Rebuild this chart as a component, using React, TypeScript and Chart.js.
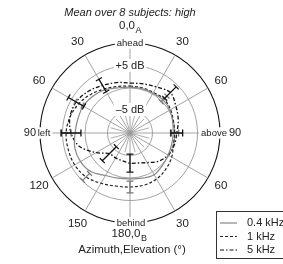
import { useEffect, useRef } from 'react';
import { Chart, registerables } from 'chart.js';

Chart.register(...registerables);

// angle of each radar spoke, clockwise from "ahead" (degrees)
const angles = [0, 15, 30, 45, 60, 75, 90, 105, 120, 135, 150, 165, 180, 195, 210, 225, 240, 255, 270, 285, 300, 315, 330, 345];

// relative level (dB) per spoke
const lowValues = [0.2, 0.2, 0.2, 0.4, 0.2, -0.2, -0.4, -0.4, -0.2, 0.2, 0.7, 0.4, 0.2, 0.4, 0.9, 2.2, 2.7, 2.7, 2.2, 2.0, 2.0, 1.6, 1.1, 0.4];
const midValues = [0.4, 0.4, 0.4, 0.7, 0.4, 0.0, -0.1, 0.0, 0.7, 1.3, 1.8, 2.0, 2.0, 2.2, 2.9, 3.8, 4.2, 4.2, 4.2, 3.8, 3.1, 2.2, 1.3, 0.7];
const highValues = [1.1, 1.3, 1.8, 2.7, 1.8, 1.1, 0.4, 0.2, -0.2, -1.1, -2.4, -3.1, -3.3, -3.6, -3.6, -3.5, -1.3, 1.6, 3.1, 3.8, 3.8, 3.1, 2.2, 1.6];

// error bars (half-length, dB)
const highErrIdx = [3, 6, 12, 15, 18, 20, 22];
const highErr = [1.8, 1.3, 2.0, 2.2, 2.2, 2.0, 1.6];
const midErrIdx = [3, 6, 12, 15, 18, 20];
const midErr = [0.9, 0.9, 1.3, 1.1, 1.1, 0.9];

// angle tick labels
const sideLabelIdx = [2, 4, 8, 10, 14, 16, 20, 22];
const sideLabelText = ['30', '60', '60', '30', '150', '120', '60', '30'];

const seriesNames = ['0.4 kHz', '1 kHz', '5 kHz'];
const FONT = '"Liberation Sans", Arial, sans-serif';

const overlay = {
  id: 'overlay',
  beforeDatasetsDraw(chart: any) {
    const s = chart.scales.r;
    const ctx = chart.ctx;
    ctx.save();
    ctx.strokeStyle = '#999';
    ctx.lineWidth = 0.8;
    for (let i = 1; i < angles.length; i += 2) {
      const p = s.getPointPosition(i, 20);
      ctx.beginPath();
      ctx.moveTo(s.xCenter, s.yCenter);
      ctx.lineTo(p.x, p.y);
      ctx.stroke();
    }
    ctx.restore();
  },
  afterDatasetsDraw(chart: any) {
    const s = chart.scales.r;
    const ctx = chart.ctx;
    const drawBars = (values: number[], idx: number[], err: number[], color: string) => {
      ctx.save();
      ctx.strokeStyle = color;
      ctx.lineWidth = 1.3;
      ctx.setLineDash([]);
      idx.forEach((i, k) => {
        const a = s.getPointPosition(i, s.getDistanceFromCenterForValue(values[i] - err[k]));
        const b = s.getPointPosition(i, s.getDistanceFromCenterForValue(values[i] + err[k]));
        const dx = b.x - a.x, dy = b.y - a.y;
        const len = Math.hypot(dx, dy) || 1;
        const nx = -dy / len * 3.5, ny = dx / len * 3.5;
        ctx.beginPath();
        ctx.moveTo(a.x, a.y); ctx.lineTo(b.x, b.y);
        ctx.moveTo(a.x - nx, a.y - ny); ctx.lineTo(a.x + nx, a.y + ny);
        ctx.moveTo(b.x - nx, b.y - ny); ctx.lineTo(b.x + nx, b.y + ny);
        ctx.stroke();
      });
      ctx.restore();
    };
    drawBars(midValues, midErrIdx, midErr, '#777');
    drawBars(highValues, highErrIdx, highErr, '#111');
  },
  afterDraw(chart: any) {
    const s = chart.scales.r;
    const ctx = chart.ctx;
    const cx = s.xCenter, cy = s.yCenter, R = s.drawingArea;
    ctx.save();
    ctx.textBaseline = 'middle';
    ctx.fillStyle = '#222';

    const boxed = (t: string, x: number, y: number, size: number, align: 'center' | 'left' | 'right') => {
      ctx.font = `${size}px ${FONT}`;
      const w = ctx.measureText(t).width;
      let x0 = x - w / 2;
      if (align === 'left') x0 = x;
      if (align === 'right') x0 = x - w;
      ctx.fillStyle = '#fff';
      ctx.fillRect(x0 - 2, y - size / 2 - 1, w + 4, size + 2);
      ctx.fillStyle = '#222';
      ctx.textAlign = 'left';
      ctx.fillText(t, x0, y);
    };

    // title
    ctx.font = `italic 11px ${FONT}`;
    ctx.textAlign = 'center';
    ctx.fillText('Mean over 8 subjects: high', cx, 13);

    // ring labels
    boxed('ahead', cx, cy - R, 9.5, 'center');
    boxed('behind', cx + 1, cy + R, 9.5, 'center');
    boxed('+5 dB', cx, s.yCenter - s.getDistanceFromCenterForValue(5), 11, 'center');
    boxed('\u20135 dB', cx, s.yCenter - s.getDistanceFromCenterForValue(-5) - 1, 11, 'center');
    boxed('left', cx - R + 4, cy, 9.5, 'center');
    boxed('above', cx + 84, cy, 9.5, 'center');
    ctx.font = `11px ${FONT}`;
    ctx.textAlign = 'right';
    ctx.fillText('90', cx - R - 4, cy);
    ctx.textAlign = 'left';
    ctx.fillText('90', cx + R + 9, cy);

    // angle labels
    ctx.font = `11.5px ${FONT}`;
    ctx.textAlign = 'center';
    sideLabelIdx.forEach((i, k) => {
      const p = s.getPointPosition(i, R + 15);
      ctx.fillText(sideLabelText[k], p.x, p.y);
    });

    // top / bottom composite labels
    const withSub = (main: string, sub: string, x: number, y: number) => {
      ctx.font = `11.5px ${FONT}`;
      const w1 = ctx.measureText(main).width;
      ctx.font = `9px ${FONT}`;
      const w2 = ctx.measureText(sub).width;
      const x0 = x - (w1 + w2) / 2;
      ctx.textAlign = 'left';
      ctx.font = `11.5px ${FONT}`;
      ctx.fillText(main, x0, y);
      ctx.font = `9px ${FONT}`;
      ctx.fillText(sub, x0 + w1 + 0.5, y + 5);
    };
    withSub('0,0', 'A', cx, cy - R - 17);
    withSub('180,0', 'B', cx - 1, cy + R + 11);
    ctx.font = `11.5px ${FONT}`;
    ctx.textAlign = 'center';
    ctx.fillText('Azimuth,Elevation (\u00b0)', cx + 2, cy + R + 27);

    // legend
    ctx.strokeStyle = '#333';
    ctx.lineWidth = 1;
    ctx.setLineDash([]);
    ctx.strokeRect(216.5, 211.5, 80, 47);
    const styles = [
      { color: '#888', dash: [] as number[] },
      { color: '#222', dash: [3, 2] },
      { color: '#111', dash: [4, 2, 1.5, 2] },
    ];
    seriesNames.forEach((name, k) => {
      const y = 223 + k * 13.5;
      ctx.strokeStyle = styles[k].color;
      ctx.setLineDash(styles[k].dash);
      ctx.lineWidth = 1.2;
      ctx.beginPath();
      ctx.moveTo(220, y);
      ctx.lineTo(237, y);
      ctx.stroke();
      ctx.setLineDash([]);
      ctx.fillStyle = '#222';
      ctx.font = `11px ${FONT}`;
      ctx.textAlign = 'left';
      ctx.fillText(name, 247, y);
    });
    ctx.restore();
  },
};

export default function App() {
  const ref = useRef<HTMLCanvasElement | null>(null);
  useEffect(() => {
    if (!ref.current) return;
    const chart = new Chart(ref.current, {
      type: 'radar',
      data: {
        labels: angles.map((a) => String(a)),
        datasets: [
          { label: seriesNames[0], data: lowValues, borderColor: '#888', borderWidth: 1.2, fill: false, pointRadius: 0, tension: 0.35 },
          { label: seriesNames[1], data: midValues, borderColor: '#222', borderWidth: 1.2, borderDash: [3, 2], fill: false, pointRadius: 0, tension: 0.35 },
          { label: seriesNames[2], data: highValues, borderColor: '#111', borderWidth: 1.3, borderDash: [4, 2, 1.5, 2], fill: false, pointRadius: 0, tension: 0.35 },
        ],
      },
      options: {
        animation: false,
        responsive: false,
        layout: { padding: { left: 40, right: 63, top: 43, bottom: 41 } },
        plugins: { legend: { display: false }, tooltip: { enabled: false } },
        scales: {
          r: {
            min: -10,
            max: 10,
            ticks: { display: false, stepSize: 5 },
            pointLabels: { display: false },
            grid: {
              circular: true,
              color: (c: any) => (c.tick && c.tick.value === 10 ? '#111' : '#999'),
              lineWidth: (c: any) => (c.tick && c.tick.value === 10 ? 1.1 : 0.9),
            },
            angleLines: {
              color: (c: any) => (c.index % 2 === 0 ? '#999' : 'rgba(0,0,0,0)'),
              lineWidth: 0.9,
            },
          },
        },
      },
      plugins: [overlay],
    } as any);
    return () => chart.destroy();
  }, []);
  return (
    <div style={{ position: 'fixed', left: 0, top: 0, width: 283, height: 264, background: '#fff' }}>
      <canvas ref={ref} width={283} height={264} />
    </div>
  );
}
